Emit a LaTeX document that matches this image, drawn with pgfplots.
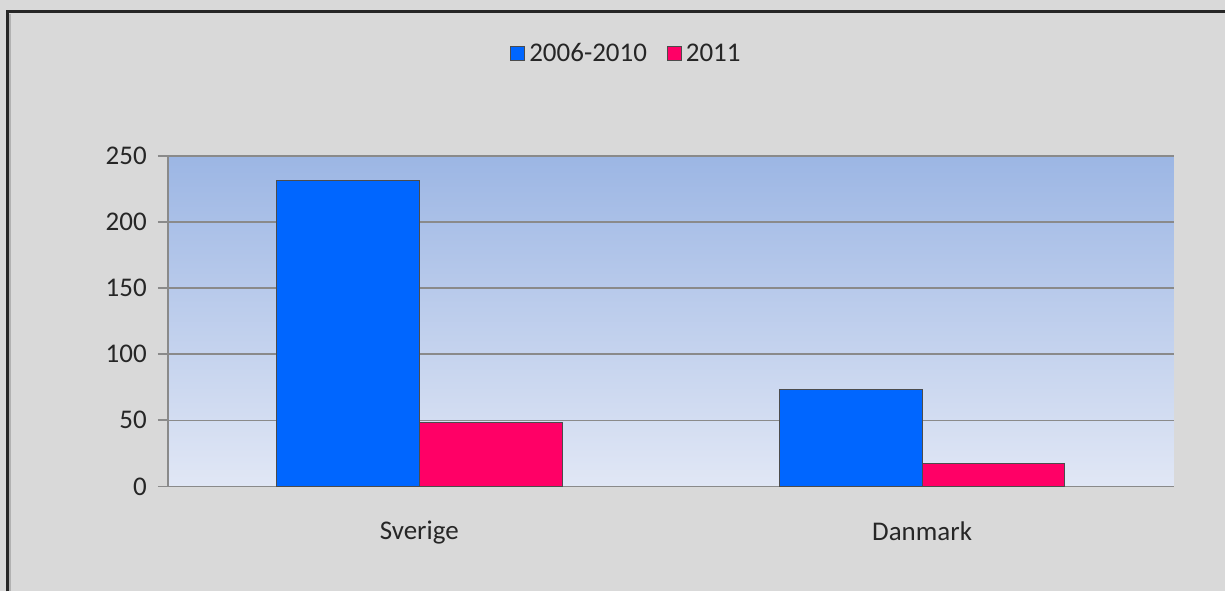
\documentclass[border=0pt]{standalone}
\usepackage{pgfplots}
\pgfplotsset{compat=1.18}
\usepackage{fontspec}
\setmainfont{Carlito}
\definecolor{bgc}{HTML}{D9D9D9}
\definecolor{gridc}{HTML}{8A8A8A}
\definecolor{bluec}{HTML}{0066FF}
\definecolor{pinkc}{HTML}{FF0066}
\definecolor{topc}{HTML}{9CB6E4}
\definecolor{botc}{HTML}{E1E7F5}
\definecolor{txt}{HTML}{262626}
\begin{document}
\begin{tikzpicture}
\fill[bgc] (0,0) rectangle (613pt,296pt);
\draw[line width=1.2pt, black!30] (5pt,0) -- (5pt,289pt);
\draw[line width=1.5pt, black!85] (4pt,0) -- (4pt,290pt) -- (613pt,290pt);
\begin{axis}[
  at={(84pt,52.5pt)}, anchor=south west,
  scale only axis, width=503.5pt, height=165.5pt,
  font=\fontsize{13.5pt}{16pt}\selectfont, text=txt,
  /pgf/number format/assume math mode=true,
  xmin=-0.5, xmax=1.5, ymin=0, ymax=250,
  ytick={0,50,100,150,200,250},
  xtick={0,1}, xticklabels={Sverige,Danmark},
  axis x line*=bottom, axis y line*=left,
  axis line style={gridc, line width=0.8pt},
  tick align=outside, major tick length=5pt,
  tick style={gridc, line width=0.8pt},
  x tick style={draw=none},
  extra x ticks={-0.5,0.5,1.5}, extra x tick labels={},
  extra x tick style={tick style={draw=gridc, line width=0.8pt}, major tick length=5pt},
  ymajorgrids, grid style={gridc, line width=0.7pt},
  xticklabel style={yshift=-9pt},
  yticklabel style={xshift=-2pt},
  axis background/.style={top color=topc, bottom color=botc},
  ybar=0pt, bar width=0.284,
  legend style={at={(0.457,1.308)}, anchor=center, draw=none, fill=none,
    legend columns=2, /tikz/every even column/.append style={column sep=8pt},
    font=\fontsize{13.5pt}{16pt}\selectfont},
  legend image code/.code={\draw[#1, draw=black!70, line width=0.5pt] (0pt,-3.5pt) rectangle (7pt,3.5pt);},
]
\addplot[fill=bluec, draw=black!70, line width=0.5pt, bar shift=-0.142] coordinates {(0,231) (1,73)};
\addplot[fill=pinkc, draw=black!70, line width=0.5pt, bar shift=0.142] coordinates {(0,48) (1,17)};
\legend{2006-2010,2011}
\end{axis}
\end{tikzpicture}
\end{document}
